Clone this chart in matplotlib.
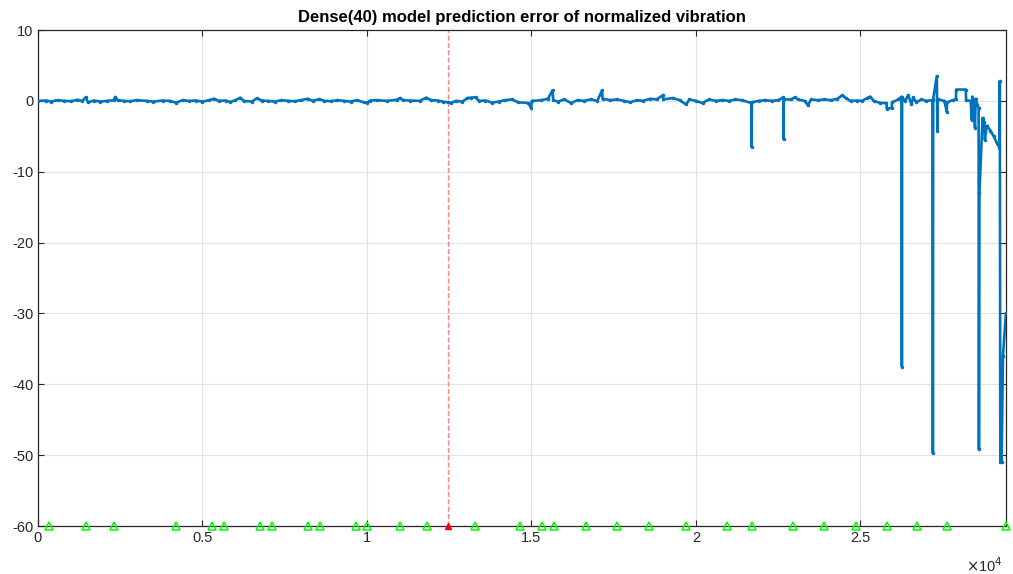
import matplotlib
matplotlib.use("Agg")
import matplotlib.pyplot as plt

plt.rcParams['font.family'] = ['Liberation Sans', 'DejaVu Sans']

# prediction error signal (sample index, error)
err_x = [0, 250, 400, 600, 800, 1000, 1200, 1350, 1450, 1520, 1700, 1900,
         2100, 2300, 2350, 2420, 2600, 2800, 3000, 3300, 3500, 3800, 4000,
         4200, 4400, 4600, 4800, 5000, 5200, 5350, 5500, 5700, 5850, 6000,
         6150, 6250, 6500, 6650, 6800, 7000, 7200, 7400, 7600, 7800, 8000,
         8200, 8350, 8550, 8700, 8900, 9100, 9300, 9500, 9700, 9900, 10000,
         10100, 10300, 10600, 10900, 11000, 11100, 11300, 11600, 11800, 11950,
         12150, 12300, 12450, 12550, 12700, 12900, 13050, 13150, 13300, 13400,
         13600, 13800, 14000, 14200, 14400, 14600, 14900, 14990, 15010, 15300,
         15500, 15640, 15660, 15800, 16000, 16200, 16400, 16600, 16800, 17000,
         17145, 17160, 17400, 17600, 17800, 18000, 18200, 18400, 18600, 18800,
         18995, 19010, 19300, 19500, 19700, 19800, 20000, 20200, 20400, 20600,
         20800, 21000, 21200, 21400, 21680, 21690, 21700, 21900, 22100, 22300,
         22500, 22655, 22662, 22670, 22900, 23000, 23100, 23300, 23400, 23500,
         23700, 23900, 24100, 24300, 24450, 24550, 24700, 24900, 25050, 25200,
         25300, 25400, 25600, 25790, 25800, 25950, 25960, 26150, 26250, 26258,
         26266, 26350, 26450, 26550, 26600, 26700, 26850, 27000, 27190, 27200,
         27210, 27320, 27335, 27345, 27550, 27620, 27635, 27800, 27900, 27910,
         28200, 28210, 28350, 28380, 28400, 28450, 28480, 28500, 28590, 28600,
         28615, 28710, 28760, 28780, 28840, 28950, 29050, 29150, 29225, 29235,
         29250, 29290, 29330, 29420]
err_y = [0.0, 0.05, -0.1, 0.1, 0.0, -0.05, 0.15, 0.0, 0.5, -0.2, 0.05, -0.1,
         0.0, 0.1, 0.55, 0.1, 0.0, -0.05, 0.1, 0.0, -0.1, 0.05, 0.0,
         -0.25, 0.1, 0.0, 0.05, -0.1, 0.1, 0.3, 0.0, 0.05, -0.15, 0.1,
         0.45, 0.0, -0.1, 0.35, 0.05, 0.0, -0.1, 0.1, 0.0, -0.05, 0.1,
         0.3, 0.0, 0.25, 0.0, -0.05, 0.1, 0.0, -0.1, 0.1, -0.2, -0.25,
         0.05, 0.1, 0.0, 0.15, 0.4, 0.1, 0.05, 0.0, 0.45, 0.1,
         0.05, -0.1, -0.2, -0.3, 0.0, -0.1, 0.4, 0.45, 0.5, 0.0,
         0.05, -0.25, -0.1, 0.1, 0.2, -0.2, -0.3, -1.0, 0.0, 0.1,
         0.3, 1.5, 0.1, -0.1, 0.2, -0.3, 0.1, 0.0, 0.2, 0.0,
         1.5, 0.3, 0.1, 0.2, 0.0, -0.2, 0.1, 0.0, 0.3, 0.2,
         0.8, 0.2, 0.4, 0.1, -0.5, 0.2, 0.0, -0.3, 0.2, 0.0,
         0.1, 0.0, 0.2, 0.1, -0.3, -6.5, -0.2, 0.0, 0.1, 0.0,
         0.1, 0.5, -5.4, 0.2, 0.2, 0.5, 0.2, 0.0, -0.6, 0.2,
         0.1, 0.2, 0.1, 0.3, 0.8, 0.4, 0.0, 0.05, 0.0, 0.4,
         0.6, 0.0, -0.3, -0.3, -1.1, -1.0, -0.2, 0.2, 0.6, -37.5,
         0.4, 0.0, 0.8, -0.5, 0.5, -0.2, 0.2, 0.0, 0.1, -49.7,
         0.3, 3.5, -4.3, 0.2, 0.0, -1.5, -0.2, 0.1, 0.2, 1.6,
         1.6, 0.1, 0.0, -2.7, 0.6, -0.5, -3.8, 0.3, -1.0, -49.2,
         -13.0, -2.4, -3.0, -5.5, -3.5, -4.2, -5.0, -6.0, -6.6, 2.8,
         -51.0, -51.0, -36.0, -30.0]

# event markers along the bottom
event_x = [343, 1459, 2310, 4195, 5289, 5644, 6748, 7103, 8198, 8571, 9665,
           10009, 11003, 11815, 13274, 14650, 15310, 15684, 16657, 17599,
           18571, 19687, 20933, 21711, 22948, 23900, 24863, 25815, 26708,
           27638, 29413]
split_x = 12462
x_max = 29420

fig = plt.figure(figsize=(10.13, 5.74), dpi=100)
ax = fig.add_axes([0.0375, 0.0836, 0.9555, 0.8641])

ax.plot(err_x, err_y, color='#0072BD', lw=1.9, marker='.', markersize=3,
        zorder=3)
ax.axvline(split_x, color='#ff8080', ls='--', lw=1.0, zorder=2)
ax.plot(event_x, [-60] * len(event_x), ls='none', marker='^', mfc='none',
        mec='#00ff00', markersize=6, mew=1.1, clip_on=False, zorder=4)
ax.plot([split_x], [-60], ls='none', marker='^', mfc='#ff0000',
        mec='#ff0000', markersize=5, clip_on=False, zorder=5)

ax.set_xlim(0, x_max)
ax.set_ylim(-60, 10)
ax.set_yticks(range(-60, 11, 10))
ax.set_yticklabels([str(v) for v in range(-60, 11, 10)])
ax.set_xticks([0, 5000, 10000, 15000, 20000, 25000])
ax.set_xticklabels(['0', '0.5', '1', '1.5', '2', '2.5'])
ax.tick_params(direction='in', top=True, right=True, labelsize=10.5,
               colors='#262626', length=4)
ax.grid(True, color='#e3e3e3', lw=0.8)
ax.set_axisbelow(True)
for s in ax.spines.values():
    s.set_color('#262626')
    s.set_linewidth(0.9)

ax.set_title('Dense(40) model prediction error of normalized vibration',
             fontsize=12, fontweight='bold', pad=6)
fig.text(0.972, 0.004, r'$\times$10$^4$', fontsize=10.5, color='#262626',
         ha='center')

fig.savefig('out.png', dpi=100)
